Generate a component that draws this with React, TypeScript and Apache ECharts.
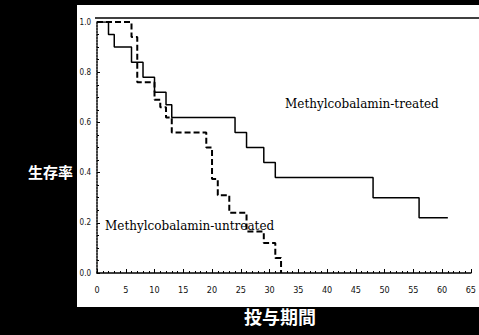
import React, { useEffect, useRef } from "react";
import * as echarts from "echarts";

const treatedTime = [0, 2, 3, 6, 8, 10, 12, 13, 24, 26, 29, 31, 48, 56, 61];
const treatedSurv = [1.0, 0.95, 0.9, 0.84, 0.78, 0.72, 0.67, 0.62, 0.56, 0.5, 0.44, 0.38, 0.3, 0.22, 0.22];
const untreatedTime = [0, 6, 7, 10, 11, 12, 13, 19, 20, 21, 23, 26, 29, 31, 32];
const untreatedSurv = [1.0, 0.94, 0.76, 0.69, 0.66, 0.62, 0.56, 0.5, 0.375, 0.31, 0.24, 0.165, 0.12, 0.06, 0.0];
const xTicks = { min: 0, max: 65, interval: 5 };
const yTicks = { min: 0, max: 1, interval: 0.2 };
const treatedLabel = "Methylcobalamin-treated";
const untreatedLabel = "Methylcobalamin-untreated";
const yTitle = "生存率";
const xTitle = "投与期間";

export default function App() {
  const ref = useRef<HTMLDivElement>(null);
  useEffect(() => {
    document.body.style.margin = "0";
    const chart = echarts.init(ref.current!, null, { renderer: "svg" });
    const pair = (t: number[], s: number[]) => t.map((x, i) => [x, s[i]]);
    chart.setOption({
      animation: false,
      backgroundColor: "#000",
      grid: { left: 97, right: 0, top: 22, bottom: 62 },
      xAxis: {
        type: "value",
        min: xTicks.min,
        max: xTicks.max,
        interval: xTicks.interval,
        offset: 4,
        axisLine: { show: true, lineStyle: { color: "#000", width: 1.5 } },
        axisTick: { show: true, inside: true, length: 4, lineStyle: { color: "#000" } },
        minorTick: { show: true, splitNumber: 5, length: 2, lineStyle: { color: "#000" } },
        splitLine: { show: false },
        axisLabel: { color: "#111", fontSize: 9, margin: 8, fontFamily: "DejaVu Sans Condensed, DejaVu Sans", showMaxLabel: true },
      },
      yAxis: {
        type: "value",
        min: yTicks.min,
        max: yTicks.max,
        interval: yTicks.interval,
        offset: 3,
        axisLine: { show: true, lineStyle: { color: "#000", width: 1.5, type: [2, 1] } },
        axisTick: { show: true, inside: true, length: 3, lineStyle: { color: "#000" } },
        minorTick: { show: true, splitNumber: 4, length: 2, lineStyle: { color: "#000" } },
        splitLine: { show: false },
        axisLabel: {
          color: "#111",
          fontSize: 8,
          margin: 3,
          fontFamily: "DejaVu Sans Condensed, DejaVu Sans",
          formatter: (v: number) => v.toFixed(1),
        },
      },
      graphic: [
        { type: "rect", z: -10, shape: { x: 77, y: 5, width: 402, height: 302 }, style: { fill: "#fff" } },
        { type: "line", shape: { x1: 95, y1: 18, x2: 479, y2: 18 }, style: { stroke: "#000", lineWidth: 1.5 } },
        {
          type: "text",
          left: 285,
          top: 98,
          style: { text: treatedLabel, fill: "#000", font: "12px 'DejaVu Serif'" },
        },
        {
          type: "text",
          left: 105,
          top: 220,
          style: { text: untreatedLabel, fill: "#000", font: "12px 'DejaVu Serif'" },
        },
        {
          type: "text",
          left: 28,
          top: 164,
          style: { text: yTitle, fill: "#fff", font: "bold 15px 'Noto Sans CJK JP'" },
        },
        {
          type: "text",
          left: 244,
          top: 307,
          style: { text: xTitle, fill: "#fff", font: "bold 18px 'Noto Sans CJK JP'" },
        },
      ],
      series: [
        {
          type: "line",
          step: "end",
          data: pair(treatedTime, treatedSurv),
          showSymbol: false,
          lineStyle: { color: "#000", width: 1.5 },
        },
        {
          type: "line",
          step: "end",
          data: pair(untreatedTime, untreatedSurv),
          showSymbol: false,
          lineStyle: { color: "#000", width: 2, type: [6, 3] },
        },
      ],
    });
    return () => chart.dispose();
  }, []);
  return <div ref={ref} style={{ width: 479, height: 335 }} />;
}
